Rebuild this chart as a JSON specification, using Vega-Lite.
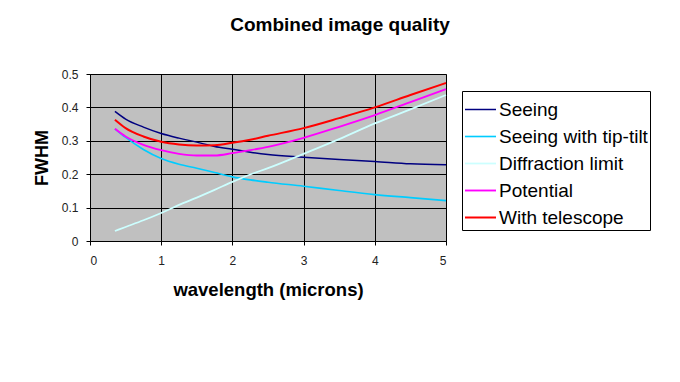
{
  "$schema": "https://vega.github.io/schema/vega-lite/v6.json",
  "autosize": {"type": "none"},
  "width": 356,
  "height": 167,
  "padding": {"left": 90, "top": 74, "right": 234, "bottom": 141},
  "background": "white",
  "title": {
    "text": "Combined image quality",
    "font": "Liberation Sans",
    "fontSize": 19,
    "fontWeight": "bold",
    "color": "black",
    "anchor": "middle",
    "frame": "group",
    "dx": 72,
    "offset": 33
  },
  "config": {
    "view": {"fill": "#C0C0C0", "stroke": "#808080", "strokeWidth": 1},
    "axis": {
      "labelFont": "Liberation Sans",
      "labelFontSize": 12,
      "labelColor": "#222222",
      "titleFont": "Liberation Sans",
      "titleFontSize": 18,
      "titleFontWeight": "bold",
      "titleColor": "black",
      "domainColor": "black",
      "domainWidth": 1,
      "tickColor": "black",
      "tickSize": 4,
      "gridColor": "black",
      "gridWidth": 1,
      "gridOpacity": 1
    }
  },
  "data": {
    "values": [
      {"w": 0.35, "series": "Seeing", "v": 0.388},
      {"w": 0.5, "series": "Seeing", "v": 0.365},
      {"w": 0.75, "series": "Seeing", "v": 0.341},
      {"w": 1, "series": "Seeing", "v": 0.322},
      {"w": 1.25, "series": "Seeing", "v": 0.308},
      {"w": 1.5, "series": "Seeing", "v": 0.296},
      {"w": 1.75, "series": "Seeing", "v": 0.283},
      {"w": 2, "series": "Seeing", "v": 0.275},
      {"w": 2.25, "series": "Seeing", "v": 0.266},
      {"w": 2.5, "series": "Seeing", "v": 0.259},
      {"w": 3, "series": "Seeing", "v": 0.251},
      {"w": 3.5, "series": "Seeing", "v": 0.244},
      {"w": 4, "series": "Seeing", "v": 0.238},
      {"w": 4.5, "series": "Seeing", "v": 0.231},
      {"w": 5, "series": "Seeing", "v": 0.228},
      {"w": 0.35, "series": "Seeing with tip-tilt", "v": 0.336},
      {"w": 0.5, "series": "Seeing with tip-tilt", "v": 0.31},
      {"w": 0.75, "series": "Seeing with tip-tilt", "v": 0.274},
      {"w": 1, "series": "Seeing with tip-tilt", "v": 0.247},
      {"w": 1.25, "series": "Seeing with tip-tilt", "v": 0.23},
      {"w": 1.5, "series": "Seeing with tip-tilt", "v": 0.218},
      {"w": 1.75, "series": "Seeing with tip-tilt", "v": 0.205},
      {"w": 2, "series": "Seeing with tip-tilt", "v": 0.192},
      {"w": 2.25, "series": "Seeing with tip-tilt", "v": 0.183},
      {"w": 2.5, "series": "Seeing with tip-tilt", "v": 0.176},
      {"w": 3, "series": "Seeing with tip-tilt", "v": 0.164},
      {"w": 3.5, "series": "Seeing with tip-tilt", "v": 0.151},
      {"w": 4, "series": "Seeing with tip-tilt", "v": 0.139},
      {"w": 4.5, "series": "Seeing with tip-tilt", "v": 0.13},
      {"w": 5, "series": "Seeing with tip-tilt", "v": 0.121},
      {"w": 0.35, "series": "Diffraction limit", "v": 0.03},
      {"w": 0.5, "series": "Diffraction limit", "v": 0.042},
      {"w": 0.75, "series": "Diffraction limit", "v": 0.062},
      {"w": 1, "series": "Diffraction limit", "v": 0.084},
      {"w": 1.25, "series": "Diffraction limit", "v": 0.108},
      {"w": 1.5, "series": "Diffraction limit", "v": 0.13},
      {"w": 1.75, "series": "Diffraction limit", "v": 0.153},
      {"w": 2, "series": "Diffraction limit", "v": 0.177},
      {"w": 2.25, "series": "Diffraction limit", "v": 0.199},
      {"w": 2.5, "series": "Diffraction limit", "v": 0.218},
      {"w": 3, "series": "Diffraction limit", "v": 0.261},
      {"w": 3.5, "series": "Diffraction limit", "v": 0.305},
      {"w": 4, "series": "Diffraction limit", "v": 0.352},
      {"w": 4.5, "series": "Diffraction limit", "v": 0.394},
      {"w": 5, "series": "Diffraction limit", "v": 0.437},
      {"w": 0.35, "series": "Potential", "v": 0.336},
      {"w": 0.5, "series": "Potential", "v": 0.313},
      {"w": 0.75, "series": "Potential", "v": 0.288},
      {"w": 1, "series": "Potential", "v": 0.272},
      {"w": 1.25, "series": "Potential", "v": 0.261},
      {"w": 1.5, "series": "Potential", "v": 0.256},
      {"w": 1.75, "series": "Potential", "v": 0.256},
      {"w": 2, "series": "Potential", "v": 0.263},
      {"w": 2.25, "series": "Potential", "v": 0.272},
      {"w": 2.5, "series": "Potential", "v": 0.282},
      {"w": 3, "series": "Potential", "v": 0.309},
      {"w": 3.5, "series": "Potential", "v": 0.342},
      {"w": 4, "series": "Potential", "v": 0.377},
      {"w": 4.5, "series": "Potential", "v": 0.416},
      {"w": 5, "series": "Potential", "v": 0.455},
      {"w": 0.35, "series": "With telescope", "v": 0.363},
      {"w": 0.5, "series": "With telescope", "v": 0.338},
      {"w": 0.75, "series": "With telescope", "v": 0.313},
      {"w": 1, "series": "With telescope", "v": 0.297},
      {"w": 1.25, "series": "With telescope", "v": 0.289},
      {"w": 1.5, "series": "With telescope", "v": 0.286},
      {"w": 1.75, "series": "With telescope", "v": 0.287},
      {"w": 2, "series": "With telescope", "v": 0.294},
      {"w": 2.25, "series": "With telescope", "v": 0.303},
      {"w": 2.5, "series": "With telescope", "v": 0.315},
      {"w": 3, "series": "With telescope", "v": 0.338},
      {"w": 3.5, "series": "With telescope", "v": 0.368},
      {"w": 4, "series": "With telescope", "v": 0.4},
      {"w": 4.5, "series": "With telescope", "v": 0.437},
      {"w": 5, "series": "With telescope", "v": 0.473}
    ]
  },
  "mark": {"type": "line", "interpolate": "monotone"},
  "encoding": {
    "x": {
      "field": "w",
      "type": "quantitative",
      "scale": {"domain": [0, 5], "nice": false},
      "axis": {
        "title": "wavelength (microns)",
        "titleFontSize": 18.5,
        "values": [0, 1, 2, 3, 4, 5],
        "format": "d",
        "labelPadding": 10,
        "titlePadding": 14,
        "grid": true
      }
    },
    "y": {
      "field": "v",
      "type": "quantitative",
      "scale": {"domain": [0, 0.5], "nice": false},
      "axis": {
        "title": "FWHM",
        "values": [0, 0.1, 0.2, 0.3, 0.4, 0.5],
        "format": "~g",
        "labelPadding": 8,
        "titlePadding": 10,
        "grid": true
      }
    },
    "color": {
      "field": "series",
      "type": "ordinal",
      "sort": ["Seeing", "Seeing with tip-tilt", "Diffraction limit", "Potential", "With telescope"],
      "scale": {
        "domain": ["Seeing", "Seeing with tip-tilt", "Diffraction limit", "Potential", "With telescope"],
        "range": ["#000080", "#00CCFF", "#CCFFFF", "#FF00FF", "#FF0000"]
      },
      "legend": {
        "title": null,
        "orient": "none",
        "legendX": 372,
        "legendY": 17,
        "symbolType": "stroke",
        "symbolSize": 961,
        "labelFont": "Liberation Sans",
        "labelFontSize": 19,
        "labelColor": "black",
        "labelOffset": 2,
        "rowPadding": 0,
        "padding": 2,
        "strokeColor": "black",
        "fillColor": "white",
        "labelLimit": 300
      }
    },
    "strokeWidth": {
      "field": "series",
      "type": "ordinal",
      "sort": ["Seeing", "Seeing with tip-tilt", "Diffraction limit", "Potential", "With telescope"],
      "scale": {
        "domain": ["Seeing", "Seeing with tip-tilt", "Diffraction limit", "Potential", "With telescope"],
        "range": [1.5, 2, 2, 2, 3.5]
      },
      "legend": {
        "title": null,
        "orient": "none",
        "legendX": 372,
        "legendY": 17,
        "symbolType": "stroke",
        "symbolSize": 961,
        "labelFont": "Liberation Sans",
        "labelFontSize": 19,
        "labelColor": "black",
        "labelOffset": 2,
        "rowPadding": 0,
        "padding": 2,
        "strokeColor": "black",
        "fillColor": "white",
        "labelLimit": 300
      }
    }
  }
}
